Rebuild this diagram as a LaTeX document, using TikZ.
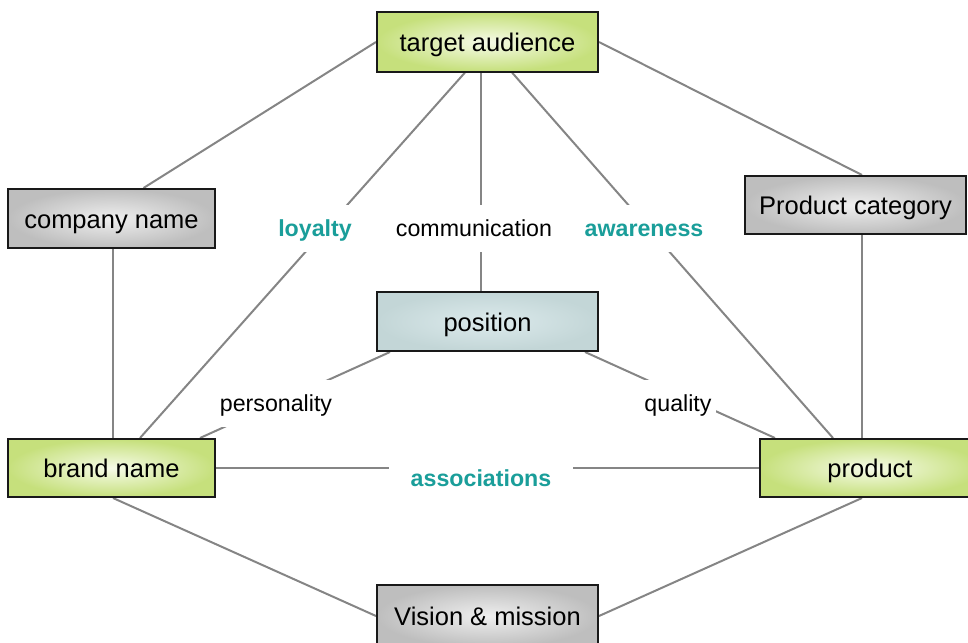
\documentclass[tikz,border=0pt]{standalone}
\usepackage{fontspec}
\setmainfont{Liberation Sans}
\usetikzlibrary{backgrounds}
\definecolor{greenout}{HTML}{C6E07C}
\definecolor{greenin}{HTML}{F6FBE8}
\definecolor{grayout}{HTML}{BEBEBE}
\definecolor{grayin}{HTML}{EFEFEF}
\definecolor{blueout}{HTML}{C3D6D7}
\definecolor{bluein}{HTML}{DCEAEC}
\definecolor{tealc}{HTML}{1A9E9A}
\definecolor{linegray}{HTML}{858585}
\tikzset{
  box/.style={draw=black!90, line width=2pt, inner sep=0pt, minimum width=221, minimum height=59,
    text height=19pt, text depth=0pt,
    font=\fontsize{25.5}{30}\selectfont, text=black},
  greenbox/.style={box, inner color=greenin, outer color=greenout},
  graybox/.style={box, inner color=grayin, outer color=grayout},
  bluebox/.style={box, inner color=bluein, outer color=blueout},
  lbl/.style={fill=white, inner xsep=4pt, inner ysep=15pt, text height=17pt, text depth=0pt,
    font=\fontsize{23.2}{28}\selectfont},
  tlbl/.style={lbl, text=tealc, font=\fontsize{23.2}{28}\selectfont\bfseries},
  conn/.style={draw=linegray, line width=2pt},
}
\begin{document}
\begin{tikzpicture}[x=1pt,y=-1pt]
\useasboundingbox (0,0) rectangle (968,642);
\node[greenbox] (ta) at (487.5,42) {target audience};
\node[graybox, minimum width=207] (cn) at (111.5,218.5) {company name};
\node[graybox, minimum height=58] (pc) at (855.5,205) {Product category};
\node[bluebox] (pos) at (487.5,321.5) {position};
\node[greenbox, minimum width=207, minimum height=58] (bn) at (111.5,468) {brand name};
\node[greenbox, minimum width=220, minimum height=58] (prod) at (870,468) {product};
\node[graybox, minimum height=62] (vm) at (487.5,616) {Vision \& mission};

\node[tlbl] (loy) at (315,228) {loyalty};
\node[lbl] (com) at (474,228) {communication};
\node[tlbl] (awa) at (644,228) {awareness};
\node[lbl] (per) at (276,403) {personality};
\node[lbl] (qua) at (678,403) {quality};
\node[tlbl, inner xsep=22pt] (ass) at (481,478) {associations};

\begin{scope}[on background layer]
\draw[conn] (ta.west) -- ([xshift=32]cn.north);
\draw[conn] (ta.east) -- ([xshift=6.5]pc.north);
\draw[conn] ([xshift=-22.5]ta.south) -- ([xshift=28.5]bn.north);
\draw[conn] ([xshift=-6.5]ta.south) -- ([xshift=-6.5]pos.north);
\draw[conn] ([xshift=24.5]ta.south) -- ([xshift=-37]prod.north);
\draw[conn] ([xshift=1.5]cn.south) -- ([xshift=1.5]bn.north);
\draw[conn] ([xshift=6.5]pc.south) -- ([xshift=-8]prod.north);
\draw[conn] ([xshift=-97.5]pos.south) -- ([xshift=88.5]bn.north);
\draw[conn] ([xshift=97.5]pos.south) -- ([xshift=-95]prod.north);
\draw[conn] (bn.east) -- (prod.west);
\draw[conn] ([xshift=1.5]bn.south) -- (vm.west);
\draw[conn] ([xshift=-8]prod.south) -- (vm.east);
\end{scope}
\end{tikzpicture}
\end{document}
